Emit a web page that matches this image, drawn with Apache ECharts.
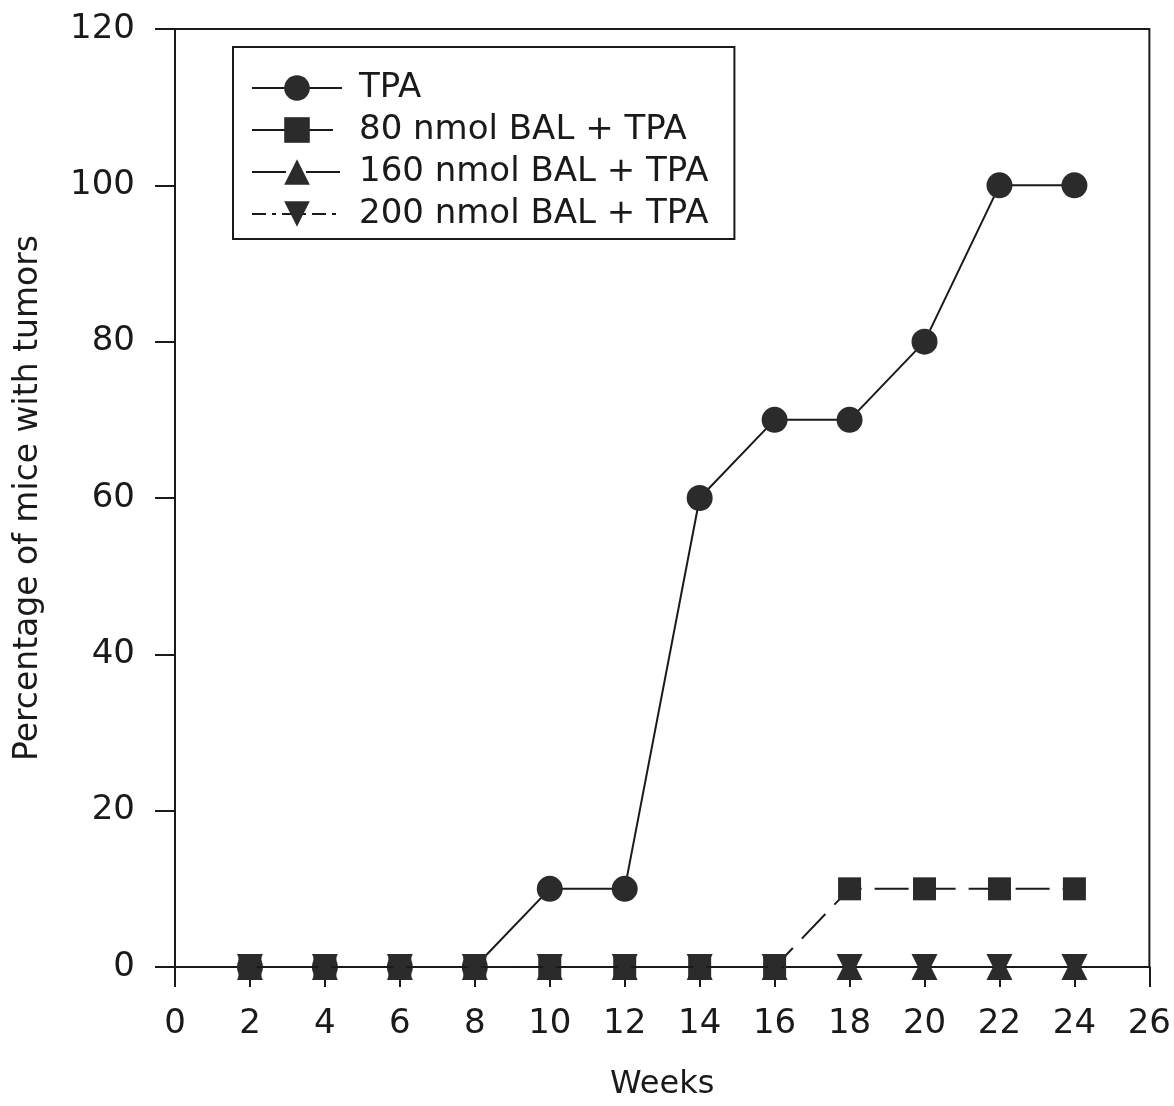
<!DOCTYPE html>
<html>
<head>
<meta charset="utf-8">
<script src="https://cdn.jsdelivr.net/npm/echarts@6/dist/echarts.min.js"></script>
<style>
  html, body { margin: 0; padding: 0; background: #fff; }
  #main { width: 1174px; height: 1106px; }
</style>
</head>
<body>
<div id="main"></div>
<script>
// weeks and percentage of mice with tumors
var weeks = [2, 4, 6, 8, 10, 12, 14, 16, 18, 20, 22, 24];
var tpa = [0, 0, 0, 0, 10, 10, 60, 70, 70, 80, 100, 100];
var bal80 = [0, 0, 0, 0, 0, 0, 0, 0, 10, 10, 10, 10];
var bal160 = [0, 0, 0, 0, 0, 0, 0, 0, 0, 0, 0, 0];
var bal200 = [0, 0, 0, 0, 0, 0, 0, 0, 0, 0, 0, 0];
var names = ['TPA', '80 nmol BAL + TPA', '160 nmol BAL + TPA', '200 nmol BAL + TPA'];

function pairs(ys) {
    return weeks.map(function (w, i) { return [w, ys[i]]; });
}

var ink = '#1a1a1a';
var fontFam = '"DejaVu Sans", "Liberation Sans", sans-serif';

var myChart = echarts.init(document.getElementById('main'));

var option = {
    backgroundColor: '#fff',
    animation: false,
    grid: {
        left: 175, right: 23, top: 29, bottom: 137,
        show: true, borderColor: ink, borderWidth: 2
    },
    legend: {
        orient: 'vertical',
        left: 233, top: 47,
        padding: [24, 26, 8, 18],
        borderColor: ink, borderWidth: 2,
        itemWidth: 90, itemHeight: 32, itemGap: 8,
        textStyle: { fontFamily: fontFam, fontSize: 34, color: ink, padding: [0, 0, 0, 12] },
        data: names
    },
    xAxis: {
        type: 'value', min: 0, max: 26, interval: 2,
        name: 'Weeks', nameLocation: 'middle', nameGap: 102,
        nameTextStyle: { fontFamily: fontFam, fontSize: 32, color: ink },
        axisLine: { onZero: false, lineStyle: { color: ink, width: 2 } },
        axisTick: { length: 20, lineStyle: { color: ink, width: 2 } },
        axisLabel: { margin: 40, fontFamily: fontFam, fontSize: 34, color: ink },
        splitLine: { show: false }
    },
    yAxis: {
        type: 'value', min: 0, max: 120, interval: 20,
        name: 'Percentage of mice with tumors', nameLocation: 'middle', nameGap: 130,
        nameTextStyle: { fontFamily: fontFam, fontSize: 33, color: ink },
        axisLine: { lineStyle: { color: ink, width: 2 } },
        axisTick: { length: 20, lineStyle: { color: ink, width: 2 } },
        axisLabel: { margin: 40, fontFamily: fontFam, fontSize: 34, color: ink },
        splitLine: { show: false }
    },
    series: [
        {
            name: names[0], type: 'line', data: pairs(tpa),
            symbol: 'circle', symbolSize: 26, z: 3,
            lineStyle: { color: ink, width: 2 },
            itemStyle: { color: '#2b2b2b' }
        },
        {
            name: names[1], type: 'line', data: pairs(bal80),
            symbol: 'rect', symbolSize: 23, z: 4,
            lineStyle: { color: ink, width: 2, type: [34, 13] },
            itemStyle: { color: '#2b2b2b' }
        },
        {
            name: names[2], type: 'line', data: pairs(bal160),
            symbol: 'triangle', symbolSize: 26, z: 5,
            lineStyle: { color: ink, width: 2, type: [34, 8, 4, 8] },
            itemStyle: { color: '#2b2b2b' }
        },
        {
            name: names[3], type: 'line', data: pairs(bal200),
            symbol: 'triangle', symbolRotate: 180, symbolSize: 26, z: 6,
            lineStyle: { color: ink, width: 2, type: [14, 6, 4, 6] },
            itemStyle: { color: '#2b2b2b' }
        }
    ]
};

myChart.setOption(option);
</script>
</body>
</html>
